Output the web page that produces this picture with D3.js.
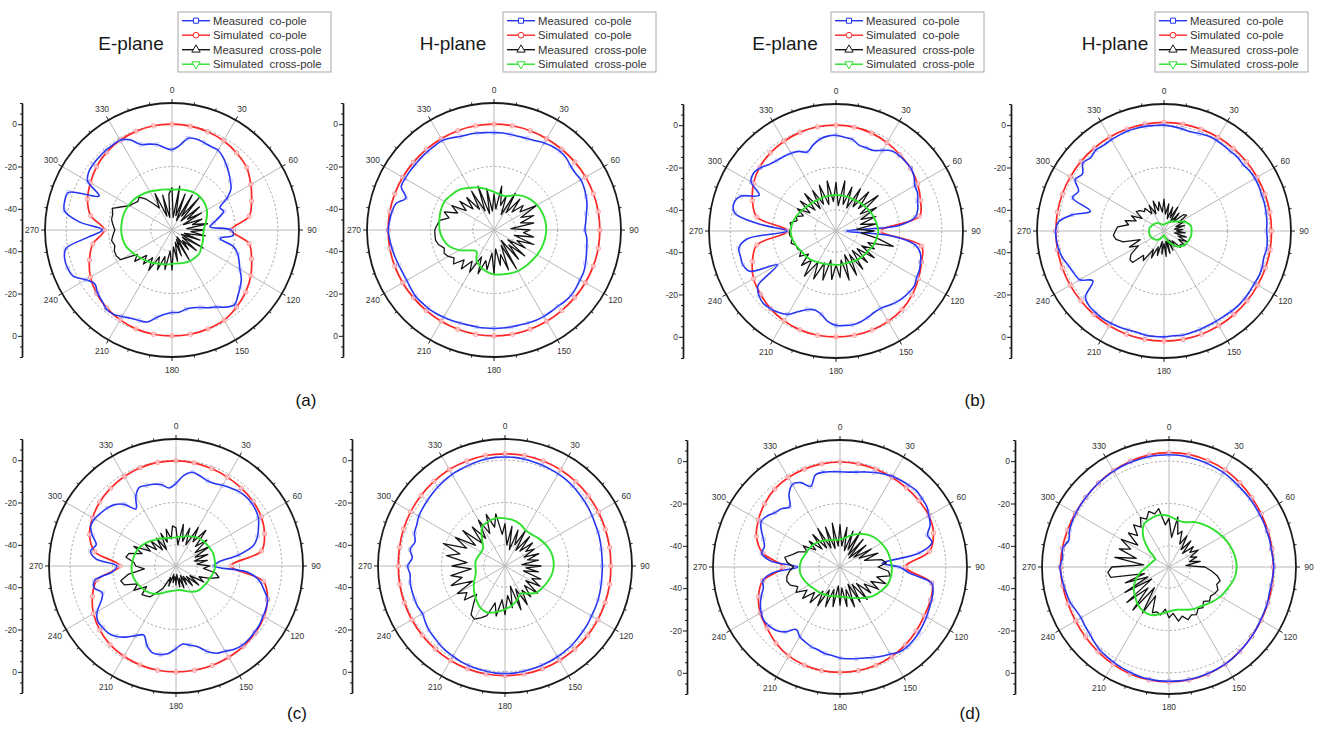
<!DOCTYPE html>
<html><head><meta charset="utf-8">
<script src="https://cdn.jsdelivr.net/npm/d3@7"></script>
<style>
body{margin:0;background:#fff}
svg{display:block}
text{font-family:Arial,"Liberation Sans",sans-serif}
</style>
</head><body>
<svg id="chart" width="1317" height="742"></svg>
<script>
// ---------- angle grids ----------
const angles5 = d3.range(0, 360, 5);
const angles10 = d3.range(0, 360, 10);
const angleTicks = [0, 30, 60, 90, 120, 150, 180, 210, 240, 270, 300, 330];
const radialTickLabels = [-40, -20, 0];
const gridLevels = [-40, -20, 0];

// ---------- (a) E-plane ----------
const aE_measCo = [-12,-10,-6,-5.5,-6,-6.5,-6.5,-8,-10,-12,
 -14,-16,-20,-25,-24,-27,-30,-32,-22,-21,
 -27,-20,-17,-15,-13,-10,-8,-6,-4,-5.5,
 -8,-9.5,-11,-12,-12,-11,-11,-10,-8,-5,
 -4.5,-4,-2.8,-1.5,-1.5,-3,-4,-5.5,-3,1.5,
 2.5,2.5,1,-10,-17,-6,1.5,2.5,2,-12,
 -4,-2,-1.5,-1.3,-1,-1,-1,-3,-7,-8,
 -9,-11];
const aE_simCo = [0,-0.2,-0.6,-1.3,-2.5,-4,-7,-10,-13,-22,
 -13,-10,-7,-4.5,-2.5,-0.8,-0.3,0,0,0,
 -0.3,-1,-2,-3.5,-5.5,-8.5,-12,-18,-11,-7.5,
 -5.5,-3.5,-2,-1,-0.4,0];
const aE_measX = [-30,-44,-29,-43,-32,-45,-31,-42,-30,-44,
 -33,-41,-34,-44,-35,-40,-33,-43,-35,-41,
 -34,-44,-36,-45,-33,-44,-35,-43,-38,-46,
 -34,-45,-37,-44,-35,-42,-31,-40,-31,-37,
 -30,-36,-28,-34,-29,-33,-27,-30,-22,-21,
 -21,-22,-21,-22,-23,-22,-21,-21,-20,-24,
 -27,-28,-29,-28,-31,-35,-38,-31,-43,-33,
 -44,-33];
const aE_simX = [-31,-30.5,-30,-29.5,-29.5,-30,-31,-32.5,-34,-35,
 -35,-34.5,-34,-33,-33,-33,-33.5,-34,-34,-33.5,
 -33,-32,-31,-30,-28.5,-27,-26.3,-26,-26,-26,
 -26.5,-27,-28,-29,-30,-30.5];

// ---------- (a) H-plane ----------
const aH_measCo = [-4,-4,-4.2,-4.3,-4,-3.5,-2.5,-1.8,-1.5,-1.8,
 -2.8,-3.1,-2.6,-3,-3.7,-4.5,-5.7,-6.5,-7,-6,
 -5.5,-4.8,-4,-3.2,-3,-2.6,-2.3,-2.5,-3,-3,
 -2.9,-2.9,-3.2,-3.5,-3.5,-3.5,-3.5,-3.5,-3.5,-3.5,
 -3.2,-2.8,-2.4,-2,-1.7,-1.6,-1.5,-2,-2.4,-2.4,
 -2,-1.5,-1,-0.5,0,-0.5,-1,-2,-5.7,-1.6,
 -1.5,-1.5,-1.6,-1.5,-1.5,-1.3,-1.2,-2,-3,-3.3,
 -3.5,-3.8];
const aH_simCo = [0,0,-0.1,-0.2,-0.2,-0.1,0,0,0,0,
 0,-0.1,-0.2,-0.3,-0.3,-0.2,-0.1,0,0,0,
 -0.1,-0.2,-0.3,-0.3,-0.2,-0.1,0,0,0,-0.1,
 -0.2,-0.3,-0.3,-0.2,-0.1,0];
const aH_measX = [-33,-40,-29,-38,-33,-42,-30,-40,-31,-38,
 -32,-35,-27,-36,-30,-37,-31,-42,-33,-36,
 -31,-40,-30,-38,-33,-42,-31,-40,-32,-44,
 -29,-42,-30,-38,-33,-41,-29,-39,-31,-35,
 -28,-36,-27,-32,-26,-30,-25,-27,-25,-24,
 -25,-23,-22,-22,-22,-23,-24,-28,-25,-31,
 -27,-34,-29,-36,-30,-38,-29,-40,-28,-42,
 -30,-41];
const aH_simX = [-32,-33,-33,-31,-29,-27.5,-26.5,-25.8,-25.4,-25.3,
 -25.6,-26,-26.5,-27,-27.3,-27.6,-28.2,-28.7,-29,-30,
 -31.5,-33.5,-37,-35,-31,-27.5,-25.5,-24.3,-23.8,-23.2,
 -23,-24,-25,-27,-28.6,-30.5];

// ---------- (b) E-plane ----------
const bE_measCo = [-4.8,-5.5,-6,-8,-8.2,-8,-6,-3.8,-3.5,-3.6,
 -3.8,-5,-7,-7.5,-9,-10,-12,-20,-45,-24,
 -12,-8.7,-7.5,-6.5,-6,-4.8,-5,-5.3,-6,-7,
 -7.8,-7.5,-6.5,-5.5,-5,-5.2,-5.4,-7,-10,-11.4,
 -10.5,-8,-4.5,-3,-2,-1.5,-2.5,-5,-18,-5,
 -3.2,-3.3,-3.4,-8,-27,-14,-1.5,0,-2,-10,
 -3.7,-2.4,-3.5,-5.5,-6.5,-7,-7.6,-8.5,-10.3,-8,
 -6,-5];
const bE_simCo = [0,-0.2,-0.8,-1.8,-3,-4,-5.5,-7.5,-10,-29,
 -9,-7,-5,-3,-1.5,-0.7,-0.2,0,0,0,
 -0.3,-1,-2,-3.5,-5,-8,-12,-27,-12,-8,
 -5,-3,-1.8,-1,-0.4,0];
const bE_measX = [-27,-38,-26,-37,-28,-38,-27,-36,-26,-35,
 -24,-36,-28,-37,-30,-38,-31,-40,-32,-38,
 -30,-22,-34,-30,-36,-28,-37,-29,-38,-28,
 -37,-27,-38,-26,-36,-28,-34,-27,-36,-26,
 -34,-25,-33,-24,-32,-27,-33,-29,-31,-30,
 -30,-28,-29,-28,-28,-29,-28,-31,-30,-33,
 -29,-35,-28,-36,-27,-37,-28,-36,-27,-37,
 -26,-36];
const bE_simX = [-33,-33,-33,-33,-32.5,-32,-31.5,-31,-30.5,-30,
 -30.5,-31,-32,-32.5,-33,-33.5,-34,-34,-34,-34,
 -33.5,-33,-32,-31.5,-31,-30,-29,-28.5,-29,-30,
 -31,-32,-32.5,-33,-33,-33];

// ---------- (b) H-plane ----------
const bH_measCo = [0,-0.5,-1,-1.5,-1,-0.5,-0.5,-0.8,-1,-0.8,
 -1.2,-0.6,-0.4,-0.5,-0.8,-0.8,-1,-1.2,-1.5,-1,
 -0.8,-1.2,-0.6,-0.4,-0.6,-0.5,-0.3,-0.3,-0.5,-0.8,
 -0.8,-0.7,-0.5,-0.3,0,-0.3,0,0,0,-0.5,
 -0.3,0,0.3,0.5,0.3,0,-1.5,-9,-4,-3,
 -2,-0.5,0.5,1,1.2,0,-6,-14,-4,-5.5,
 -1.5,-3,0,-1,0,-0.5,-0.2,0,0.3,0.3,
 0.2,0];
const bH_simCo = [1.3,1.3,1.2,1.1,1,0.9,0.8,0.8,0.8,0.8,
 0.9,1,1.1,1.3,1.5,1.7,1.9,2,2,2,
 1.9,1.7,1.5,1.3,1.2,1.1,1.1,1.1,1.1,1.1,
 1.1,1.2,1.2,1.3,1.3,1.3];
const bH_measX = [-35,-42,-37,-44,-38,-43,-37,-45,-39,-44,
 -38,-37,-42,-39,-44,-40,-45,-41,-44,-40,
 -45,-39,-43,-38,-42,-38,-40,-39,-44,-41,
 -45,-40,-46,-39,-45,-38,-44,-39,-45,-38,
 -42,-36,-40,-33,-35,-29,-29,-31,-36,-32,
 -38,-30,-27,-26,-27,-28,-33,-31,-36,-33,
 -38,-34,-35,-37,-36,-40,-36,-41,-35,-40,
 -36,-41];
const bH_simX = [-47,-46.5,-46,-45,-44,-43,-41,-38.5,-37,-37,
 -37,-37.5,-38,-39,-40.5,-43,-45,-47,-48,-47.5,
 -46.5,-45.5,-44.5,-44,-43.5,-43,-43,-43,-43,-43.5,
 -44,-44.5,-45,-46,-46.5,-47];

// ---------- (c) E-plane ----------
const cE_measCo = [-11,-7,-5,-6,-7,-7,-6,-5,-4,-3.5,
 -3.5,-4,-5,-7,-9,-12,-20,-30,-32,-16,
 -10,-7,-4,-3,-2.5,-1.8,-1.5,-1.2,-1.2,-2,
 -3.5,-4.5,-7,-10.5,-12,-13,-11,-8.5,-7.5,-7.5,
 -10,-14,-12,-9,-6.5,-5,-4.8,-4.8,-7,-11,
 -13,-10,-11,-20,-22,-12,-9,-11,-8,-5.5,
 -5.5,-6.5,-7.5,-9,-12,-17,-12,-9,-9.5,-10,
 -11,-13];
const cE_simCo = [-0.3,-0.5,-1,-1.5,-2,-2.5,-3.5,-5.5,-9,-24,
 -8,-4,-2,-1,-0.5,-0.2,0,0,0,0,
 -0.3,-0.8,-1.5,-3,-5,-8,-12,-23.5,-11,-6.5,
 -4.5,-3,-2,-1.2,-0.6,-0.3];
const cE_measX = [-32,-40,-30,-38,-31,-39,-29,-36,-28,-37,
 -31,-39,-32,-40,-34,-41,-35,-40,-34,-37,
 -31,-29,-33,-38,-35,-42,-36,-43,-38,-44,
 -40,-45,-39,-44,-40,-46,-41,-45,-42,-46,
 -40,-44,-38,-35,-31,-30,-29,-33,-27,-30,
 -24,-23,-27,-35,-31,-30,-26,-27,-33,-28,
 -36,-32,-38,-33,-40,-34,-41,-33,-38,-32,
 -37,-31];
const cE_simX = [-36.5,-36,-35,-34,-33,-32.5,-32,-31.5,-31.5,-31.5,
 -32,-33,-33.5,-34,-34.5,-36,-37.5,-38.5,-38.5,-38,
 -37,-35,-33,-31.5,-30.5,-29.5,-29,-29,-29.5,-30,
 -31,-32.5,-34,-35,-36,-36.5];

// ---------- (c) H-plane ----------
const cH_measCo = [1.5,1.5,1.3,1,0.8,0.5,0.3,0,-0.5,-1,
 -1.5,-2,-2.5,-3,-3.2,-3.5,-3.8,-4,-4,-4,
 -3.8,-3.5,-3.2,-3,-2.8,-2.3,-2,-1.5,-1,-0.8,
 -0.5,-0.2,0,0.3,0.5,0.8,0.8,0.8,0.5,0.3,
 0,-0.3,-0.8,-1.2,-1.8,-2.5,-3,-4,-5,-4.5,
 -4.5,-4.5,-4.5,-5,-4,-6,-4.5,-6,-4.5,-4,
 -3,-2.5,-2,-1.5,-1,-0.5,0,0.3,0.6,1,
 1.3,1.5];
const cH_simCo = [3,3,2.8,2.5,2,1.5,1,0.5,0.2,0,
 0.2,0.4,0.7,1,1.3,1.5,1.7,1.8,1.8,1.8,
 1.7,1.5,1.2,1,0.8,0.6,0.5,0.4,0.6,1,
 1.4,1.8,2.2,2.6,2.8,3];
const cH_measX = [-30,-40,-31,-42,-32,-39,-31,-41,-32,-40,
 -33,-38,-34,-40,-33,-39,-34,-42,-33,-40,
 -34,-41,-32,-36,-31,-38,-30,-37,-31,-36,
 -29,-38,-28,-40,-30,-36,-27,-34,-26,-32,
 -25,-23,-21,-22,-27,-31,-25,-28,-24,-33,
 -23,-29,-24,-34,-25,-32,-22,-28,-19,-30,
 -23,-33,-24,-35,-26,-34,-25,-33,-24,-31,
 -25,-35];
const cH_simX = [-27.5,-28,-29,-30.5,-30.5,-29.5,-28.5,-27.5,-27,-27,
 -27.5,-28.5,-29.5,-30.5,-33,-35,-33,-31,-29.5,-28,
 -26.5,-27,-29,-31,-33,-35,-36,-36,-36,-36.5,
 -37,-36.5,-33,-28.5,-27.5,-27];

// ---------- (d) E-plane ----------
const dE_measCo = [-5,-5,-4.5,-3.5,-2.5,-1.5,-0.5,0,0.5,1,
 0.5,0,-1.5,-3,-6,-5,-12,-30,-22,-17,
 -6,-4.5,-4,-3.5,-2.8,-2.2,-1.5,-1,-0.7,-1,
 -2.5,-3.5,-4.5,-5.5,-6,-6.5,-7,-8,-8.5,-9.5,
 -10,-11,-12,-14,-10,-7.5,-6.5,-6,-7,-8.5,
 -10.5,-12.5,-13,-18,-30,-17,-12.5,-13,-11.5,-9,
 -7,-8,-10,-11,-13,-8,-5,-6,-9.5,-5,
 -4.5,-4.8];
const dE_simCo = [-0.4,-0.5,-0.8,-1,-1.2,-1.3,-1.5,-3,-7,-19,
 -6,-4.5,-4,-3,-2,-1.2,-0.6,-0.3,-0.2,-0.3,
 -0.7,-1.5,-3,-5,-6.5,-9,-13,-23,-13,-8,
 -5.5,-3.5,-2,-1.2,-0.8,-0.5];
const dE_measX = [-30,-40,-31,-42,-32,-41,-31,-43,-33,-44,
 -34,-42,-33,-40,-31,-38,-30,-28,-32,-27,
 -26,-32,-27,-34,-29,-36,-31,-39,-30,-40,
 -31,-41,-30,-39,-31,-40,-32,-41,-31,-39,
 -30,-38,-29,-36,-28,-33,-27,-31,-26,-28,
 -25,-24,-24.5,-26,-28,-25,-23.5,-27,-29,-33,
 -30,-36,-31,-38,-30,-39,-29,-40,-30,-41,
 -29,-40];
const dE_simX = [-37,-36,-34,-32,-30,-28.5,-27.5,-26.5,-26,-25.5,
 -25.5,-26,-27.5,-29,-31,-33,-34.5,-35.5,-36,-36,
 -35.5,-35,-34.5,-34,-33,-32,-31,-31,-31.5,-32.5,
 -33,-33.5,-34.5,-35.5,-36.5,-37];

// ---------- (d) H-plane ----------
const dH_measCo = [3,3,2.8,2.5,2.2,1.8,1.5,1,0.5,0.2,
 0,-0.3,-0.5,-0.6,-0.8,-0.8,-1,-0.8,-0.5,-0.8,
 -1,-1,-0.5,-0.3,0,0.5,1,1.5,2,2.5,
 3,3.3,3.6,3.8,4,4,4,4,3.8,3.5,
 3,2.6,2,1.5,1,0,-1,-1.5,-2,-1.5,
 -0.5,0,0.5,1,1.5,0.5,1,-1,0,0.5,
 0.8,1,1.2,1.5,1.8,2,2.3,2.5,2.7,2.8,
 3,3];
const dH_simCo = [4,4,3.5,3,2,1,0.3,-0.3,-0.6,-0.7,
 -0.6,-0.3,0.3,1,2,3,3.8,4.2,4.3,4.2,
 3.8,3,2.2,1.5,1,0.8,1,1.3,1.2,1,
 1,1.3,1.8,2.5,3.2,3.8];
const dH_measX = [-27,-36,-26,-34,-32,-38,-33,-40,-34,-41,
 -35,-38,-34,-39,-36,-40,-35,-42,-33,-30,
 -27,-25,-26,-24.5,-25,-26,-25,-27,-25,-26,
 -24,-25,-23.5,-26,-24,-28,-26,-30,-27,-28,
 -27,-35,-25,-38,-23.5,-36,-24,-40,-26,-39,
 -28,-38,-22,-21,-23,-38,-24,-34,-25,-30,
 -24,-32,-25,-29,-24,-27,-23,-25,-22,-24,
 -22,-30];
const dH_simX = [-26,-27.5,-27.5,-25.5,-24,-22.5,-21,-19.5,-18.5,-18,
 -18.7,-20.5,-22,-24,-26,-27,-28.5,-29.5,-29,-27.5,
 -25.8,-25.8,-27,-29,-30.7,-33.5,-36.5,-39.5,-41,-42,
 -42.5,-37.5,-31,-26.5,-25.5,-25];

// ---------- text ----------
const planeTitles = ['E-plane', 'H-plane', 'E-plane', 'H-plane'];
const subLabels = ['(a)', '(b)', '(c)', '(d)'];
const legendLabels = ['Measured  co-pole', 'Simulated  co-pole', 'Measured  cross-pole', 'Simulated  cross-pole'];

// ---------- series bundles ----------
const panelData = [
  [aE_measCo, aE_simCo, aE_measX, aE_simX],
  [aH_measCo, aH_simCo, aH_measX, aH_simX],
  [bE_measCo, bE_simCo, bE_measX, bE_simX],
  [bH_measCo, bH_simCo, bH_measX, bH_simX],
  [cE_measCo, cE_simCo, cE_measX, cE_simX],
  [cH_measCo, cH_simCo, cH_measX, cH_simX],
  [dE_measCo, dE_simCo, dE_measX, dE_simX],
  [dH_measCo, dH_simCo, dH_measX, dH_simX]
];

// ---------- layout (positions only) ----------
const R = 127;
const layout = [
  {cx:172, cy:230, ax:22},
  {cx:494, cy:230, ax:343},
  {cx:836, cy:231, ax:683},
  {cx:1164, cy:231, ax:1011},
  {cx:176, cy:566, ax:22},
  {cx:505, cy:566, ax:352},
  {cx:840, cy:567, ax:687},
  {cx:1169, cy:567, ax:1015}
];
const titlePos = [[131,43],[453,43],[785,43],[1115,43]];
const legendPos = [[178,12],[503,12],[831,12],[1155,12]];
const subPos = [[306,400],[975,400],[297,713],[970,713]];

const colors = {blue:'#2535f2', red:'#ff2626', black:'#141414', green:'#2fe02f'};
const seriesStyle = [
  {color:colors.blue, width:1.6, curve:d3.curveCatmullRomClosed.alpha(0.5), marker:d3.symbolSquare},
  {color:colors.red, width:1.7, curve:d3.curveCatmullRomClosed.alpha(0.5), marker:d3.symbolCircle},
  {color:colors.black, width:1.3, curve:d3.curveLinearClosed, marker:d3.symbolTriangle},
  {color:colors.green, width:1.9, curve:d3.curveCatmullRomClosed.alpha(0.5), marker:d3.symbolTriangle}
];

const svg = d3.select('#chart');
const toRad = d => d * Math.PI / 180;

function drawPanel(idx) {
  const L = layout[idx];
  const [mCo, sCo, mX, sX] = panelData[idx];
  const r = d3.scaleLinear().domain([-50, 10]).range([0, R]).clamp(true);
  const g = svg.append('g').attr('transform', `translate(${L.cx},${L.cy})`);

  // dashed grid circles
  g.selectAll('circle.grid').data(gridLevels).join('circle')
    .attr('class','grid').attr('r', d => r(d))
    .attr('fill','none').attr('stroke','#9a9a9a').attr('stroke-width',0.9)
    .attr('stroke-dasharray','2.2,2.2');

  // spokes
  g.selectAll('line.spoke').data(angleTicks).join('line')
    .attr('class','spoke')
    .attr('x1',0).attr('y1',0)
    .attr('x2', d => r(10) * Math.sin(toRad(d)))
    .attr('y2', d => -r(10) * Math.cos(toRad(d)))
    .attr('stroke','#b8b8b8').attr('stroke-width',1);

  // curves
  const pairs = (angles, vals) => vals.map((v, i) => [angles[i], v]);
  const sets = [pairs(angles5, mCo), pairs(angles10, sCo), pairs(angles5, mX), pairs(angles10, sX)];
  const order = [1, 0, 2, 3];
  order.forEach(k => {
    const st = seriesStyle[k];
    const line = d3.lineRadial().angle(d => toRad(d[0])).radius(d => r(d[1])).curve(st.curve);
    g.append('path').datum(sets[k]).attr('d', line)
      .attr('fill','none').attr('stroke', st.color).attr('stroke-width', st.width)
      .attr('stroke-linejoin','round');
    if (k === 1) {
      g.selectAll(null).data(sets[k]).join('circle')
        .attr('cx', d => r(d[1]) * Math.sin(toRad(d[0])))
        .attr('cy', d => -r(d[1]) * Math.cos(toRad(d[0])))
        .attr('r', 2.2).attr('fill','#fff').attr('fill-opacity',0.6)
        .attr('stroke','#ff7a7a').attr('stroke-width',0.8);
    }
    if (k === 0) {
      g.selectAll(null).data(sets[k].filter((d, i) => i % 2 === 0)).join('rect')
        .attr('x', d => r(d[1]) * Math.sin(toRad(d[0])) - 1.8)
        .attr('y', d => -r(d[1]) * Math.cos(toRad(d[0])) - 1.8)
        .attr('width', 3.6).attr('height', 3.6)
        .attr('fill','none').attr('stroke','#7f88ff').attr('stroke-width',0.6).attr('opacity',0.6);
    }
  });

  // outer circle
  g.append('circle').attr('r', r(10)).attr('fill','none')
    .attr('stroke','#1a1a1a').attr('stroke-width',1.8);

  // angular ticks on the outer circle
  g.selectAll('line.atick').data(angles10).join('line')
    .attr('class','atick')
    .attr('x1', d => r(10) * Math.sin(toRad(d)))
    .attr('y1', d => -r(10) * Math.cos(toRad(d)))
    .attr('x2', d => (r(10) + (d % 30 === 0 ? 4 : 2.5)) * Math.sin(toRad(d)))
    .attr('y2', d => -(r(10) + (d % 30 === 0 ? 4 : 2.5)) * Math.cos(toRad(d)))
    .attr('stroke','#1a1a1a').attr('stroke-width',1);

  // angle labels
  g.selectAll('text.alab').data(angleTicks).join('text')
    .attr('class','alab')
    .attr('x', d => (r(10) + 13) * Math.sin(toRad(d)))
    .attr('y', d => -(r(10) + 13) * Math.cos(toRad(d)))
    .attr('text-anchor','middle').attr('dominant-baseline','central')
    .attr('font-size', 8.5).attr('fill','#333')
    .text(d => d);

  // radial axis on the left
  const yTop = d3.scaleLinear().domain([-50, 10]).range([L.cy, L.cy - R]);
  const yBot = d3.scaleLinear().domain([-50, 10]).range([L.cy, L.cy + R]);
  const minorVals = d3.range(-45, 11, 5).filter(v => radialTickLabels.indexOf(v) < 0);
  [yTop, yBot].forEach(sc => {
    const ag = svg.append('g').attr('transform', `translate(${L.ax},0)`);
    ag.call(d3.axisLeft(sc).tickValues(radialTickLabels).tickSize(4).tickSizeOuter(0).tickFormat(d => String(d)));
    ag.append('g').call(d3.axisLeft(sc).tickValues(minorVals).tickSize(2).tickSizeOuter(0).tickFormat(''));
    ag.selectAll('path.domain').attr('stroke','#1a1a1a').attr('stroke-width',1.4);
    ag.selectAll('.tick line').attr('stroke','#1a1a1a');
    ag.selectAll('.tick text').attr('font-size', 8.5).attr('fill','#333')
      .attr('font-family','Arial, "Liberation Sans", sans-serif').attr('x', -5);
  });
}

for (let i = 0; i < layout.length; i++) drawPanel(i);

// titles
planeTitles.forEach((t, i) => {
  svg.append('text').attr('x', titlePos[i][0]).attr('y', titlePos[i][1])
    .attr('text-anchor','middle').attr('dominant-baseline','central')
    .attr('font-size', 19).attr('fill','#1a1a1a').text(t);
});

// legends
legendPos.forEach(([lx, ly]) => {
  const lg = svg.append('g').attr('transform', `translate(${lx},${ly})`);
  lg.append('rect').attr('x',0).attr('y',0).attr('width',153).attr('height',60)
    .attr('fill','#fff').attr('stroke','#a8a8a8').attr('stroke-width',1);
  legendLabels.forEach((lab, k) => {
    const st = seriesStyle[k];
    const yy = 8.7 + k * 14.5;
    lg.append('line').attr('x1',4).attr('x2',32).attr('y1',yy).attr('y2',yy)
      .attr('stroke', st.color).attr('stroke-width',1.4);
    const sym = d3.symbol().type(st.marker).size(k >= 2 ? 30 : 26);
    lg.append('path').attr('d', sym())
      .attr('transform', `translate(18,${yy})` + (k === 3 ? ' rotate(180)' : ''))
      .attr('fill','#fff').attr('stroke', st.color).attr('stroke-width',1);
    lg.append('text').attr('x',35).attr('y',yy).attr('dominant-baseline','central')
      .attr('font-size',11.3).attr('fill','#333').style('white-space','pre').text(lab);
  });
});

// subfigure labels
subLabels.forEach((t, i) => {
  svg.append('text').attr('x', subPos[i][0]).attr('y', subPos[i][1])
    .attr('text-anchor','middle').attr('dominant-baseline','central')
    .attr('font-family','"Liberation Serif", "Times New Roman", serif')
    .attr('font-size', 17).attr('fill','#111').text(t);
});
</script>
</body></html>
